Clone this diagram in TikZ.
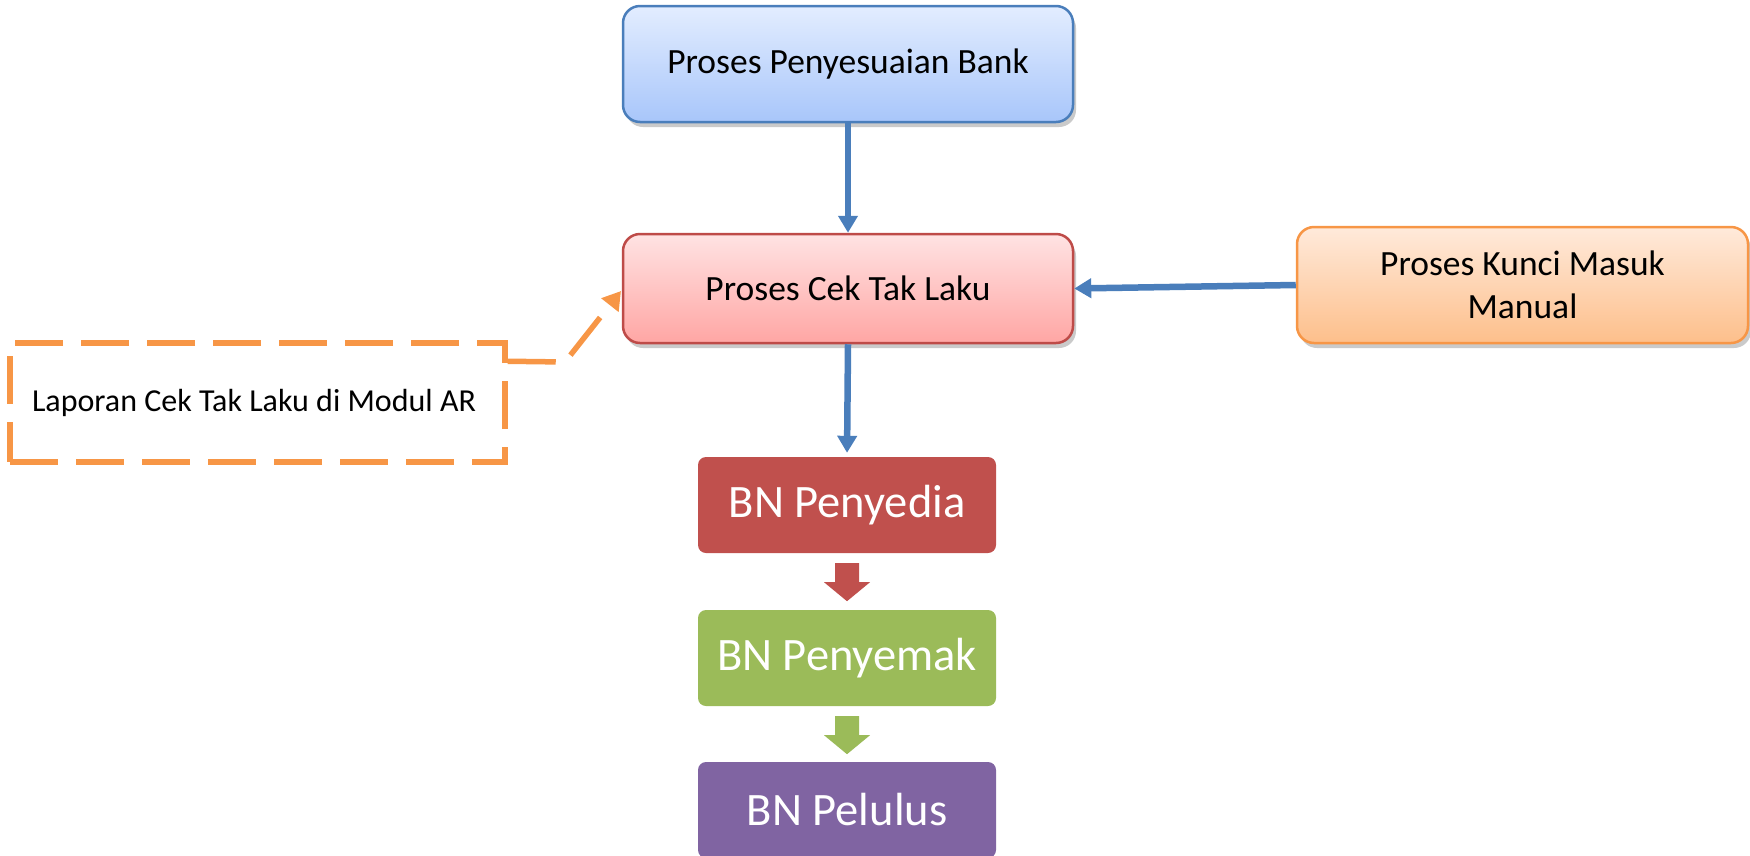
\documentclass[tikz,border=0pt]{standalone}
\usepackage{fontspec}
\setmainfont{Carlito}
\usetikzlibrary{arrows.meta,calc,shadows,backgrounds}
\definecolor{lineblue}{HTML}{4A7EBB}
\definecolor{bdred}{HTML}{BE4B48}
\definecolor{bdorange}{HTML}{F79646}
\definecolor{bnred}{HTML}{C0504D}
\definecolor{bngreen}{HTML}{9BBB59}
\definecolor{bnpurple}{HTML}{8064A2}
\definecolor{bluetop}{HTML}{E3EDFF}
\definecolor{bluebot}{HTML}{A8C6FA}
\definecolor{redtop}{HTML}{FFE3E3}
\definecolor{redbot}{HTML}{FFA6A4}
\definecolor{orgtop}{HTML}{FFEADB}
\definecolor{orgbot}{HTML}{FDBF8B}
\tikzset{
  procbox/.style={rounded corners=17pt, line width=2.5pt, inner sep=0pt, align=center,
    font=\fontsize{35.5}{43}\selectfont,
    drop shadow={shadow xshift=3pt, shadow yshift=-5pt, opacity=0.35, fill=black!60}},
  bnbox/.style={rounded corners=8pt, inner sep=0pt, text=white,
    minimum width=298pt, minimum height=96pt, font=\fontsize{46.5}{56}\selectfont},
  bluearrow/.style={draw=lineblue, line width=6.5pt, -{Triangle[length=17pt,width=19pt]}},
  orgdash/.style={draw=bdorange, line width=5.5pt, dash pattern=on 48pt off 18pt},
  orgarrow/.style={orgdash, -{Triangle[length=18pt,width=21pt]}},
}
\newcommand{\blockarr}[2]{%
  \fill[#2] ($(#1.south)+(-12,10)$) -- ($(#1.south)+(12,10)$) -- ($(#1.south)+(12,29)$)
    -- ($(#1.south)+(23,29)$) -- ($(#1.south)+(0,48)$) -- ($(#1.south)+(-23,29)$)
    -- ($(#1.south)+(-12,29)$) -- cycle;}
\begin{document}
\begin{tikzpicture}[x=1pt,y=-1pt]
\useasboundingbox (0,0) rectangle (1750,855);
\node[procbox, draw=lineblue, top color=bluetop, bottom color=bluebot,
  minimum width=450pt, minimum height=116pt] (pb) at (848,64) {Proses Penyesuaian Bank};
\node[procbox, draw=bdred, top color=redtop, bottom color=redbot,
  minimum width=450pt, minimum height=109pt] (ct) at (848,288.5) {Proses Cek Tak Laku};
\node[procbox, draw=bdorange, top color=orgtop, bottom color=orgbot,
  minimum width=451pt, minimum height=116pt] (km) at (1522.5,285) {Proses Kunci Masuk\\Manual};
\node[orgdash, inner ysep=0pt, inner xsep=22pt,
  minimum height=119pt, font=\fontsize{32}{38}\selectfont]
  (lap) at (257.5,402.5) {\makebox[451pt][l]{Laporan Cek Tak Laku di Modul AR}};
\node[bnbox, fill=bnred] (b1) at (847,505) {BN Penyedia};
\node[bnbox, fill=bngreen] (b2) at (847,658) {BN Penyemak};
\node[bnbox, fill=bnpurple] (b3) at (847,810) {BN Pelulus};
\draw[bluearrow] (pb.south) -- (ct.north);
\draw[bluearrow, shorten >=4pt] (ct.south) -- (b1.north);
\draw[bluearrow] (km.west) -- (ct.east);
\coordinate (bend) at (565,362);
\coordinate (tip) at (621,291);
\begin{scope}[on background layer]
\draw[orgarrow] ($(lap.north east)+(0,21)$) -- (bend) -- (tip);
\end{scope}
\blockarr{b1}{bnred}
\blockarr{b2}{bngreen}
\end{tikzpicture}
\end{document}
